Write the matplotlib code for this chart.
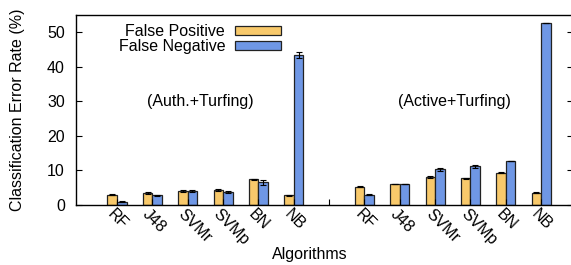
import numpy as np
import matplotlib
matplotlib.use("Agg")
from matplotlib import pyplot as plt
import matplotlib.transforms as mtransforms

plt.rcParams['font.family'] = ['Liberation Sans', 'DejaVu Sans']

algorithms = ["RF", "J48", "SVMr", "SVMp", "BN", "NB"]
groups = ["(Auth.+Turfing)", "(Active+Turfing)"]

# false positive / false negative rates (%) per group
fp_auth = [3.0, 3.5, 4.0, 4.3, 7.4, 2.8]
fn_auth = [1.0, 2.8, 4.1, 3.7, 6.6, 43.4]
fp_auth_err = [0.1, 0.2, 0.2, 0.3, 0.2, 0.1]
fn_auth_err = [0.1, 0.1, 0.3, 0.3, 0.7, 0.8]

fp_active = [5.3, 6.1, 8.1, 7.7, 9.4, 3.6]
fn_active = [3.0, 6.1, 10.3, 11.2, 12.7, 52.7]
fp_active_err = [0.1, 0.1, 0.3, 0.2, 0.2, 0.1]
fn_active_err = [0.1, 0.1, 0.4, 0.5, 0.1, 0.1]

fp = fp_auth + fp_active
fn = fn_auth + fn_active
fp_err = fp_auth_err + fp_active_err
fn_err = fn_auth_err + fn_active_err
labels = algorithms + algorithms

pos = np.array(list(range(1, 7)) + list(range(8, 14)))
w = 0.27
fs = 11.5

fig = plt.figure(figsize=(5.71, 2.65), dpi=100)
ax = fig.add_axes([76/571, 1-205/265, 497/571, 190/265])

ek = dict(ecolor='black', capsize=2, elinewidth=0.8, capthick=0.8)
ax.bar(pos - w/2, fp, w, yerr=fp_err, color='#F8C96B', edgecolor='#222222',
       linewidth=0.9, error_kw=ek, label='False Positive')
ax.bar(pos + w/2, fn, w, yerr=fn_err, color='#6F97E5', edgecolor='#222222',
       linewidth=0.9, error_kw=ek, label='False Negative')

ax.set_xlim(-0.16, 13.9)
ax.set_ylim(0, 55)
ax.set_yticks([0, 10, 20, 30, 40, 50])
ax.set_xticks(list(range(1, 14)))
ax.set_xticklabels([])
ax.tick_params(axis='y', direction='in', length=4, labelsize=fs, right=True, pad=8)
ax.tick_params(axis='x', direction='in', length=4, width=0.8)

# rotated category labels
offset = mtransforms.ScaledTranslation(-7/100, -7/100, fig.dpi_scale_trans)
for p, lab in zip(pos, labels):
    ax.text(p, 0, lab, rotation=-45, ha='left', va='center', rotation_mode='anchor',
            fontsize=fs, transform=ax.get_xaxis_transform() + offset)

ax.text(3.35, 30, groups[0], ha='center', va='center', fontsize=fs)
ax.text(10.55, 30, groups[1], ha='center', va='center', fontsize=fs)

fig.text(18/571, 1-110/265, "Classification Error Rate (%)", rotation=90,
         ha='center', va='center', fontsize=fs)
fig.text(310/571, 1-255/265, "Algorithms", ha='center', va='center', fontsize=fs)

for s in ax.spines.values():
    s.set_linewidth(1.0)

ax.legend(loc='upper left', bbox_to_anchor=(0.06, 1.02), frameon=False,
          markerfirst=False, fontsize=fs, handlelength=2.9, handleheight=0.5,
          labelspacing=0.0, handletextpad=0.6, borderpad=0.3)

fig.savefig("out.png", dpi=100)
